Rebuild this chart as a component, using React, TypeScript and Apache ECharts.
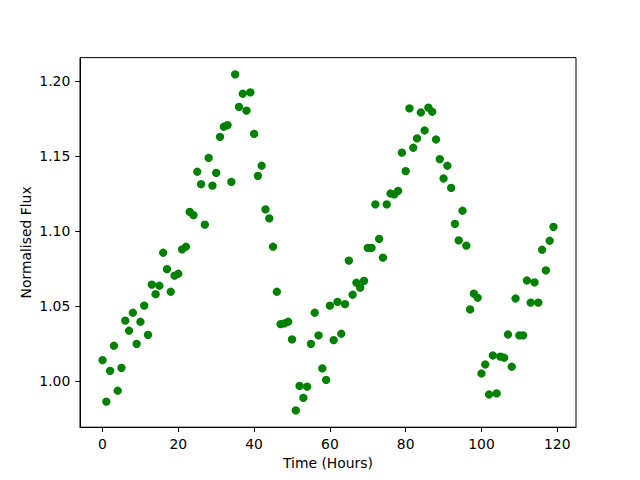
import React, { useEffect, useRef } from "react";
import * as echarts from "echarts";

const hours = [
  0, 1, 2, 3, 4, 5, 6, 7, 8, 9, 10, 11, 12, 13, 14, 15, 16, 17, 18, 19,
  20, 21, 22, 23, 24, 25, 26, 27, 28, 29, 30, 31, 32, 33, 34, 35, 36, 37, 38, 39,
  40, 41, 42, 43, 44, 45, 46, 47, 48, 49, 50, 51, 52, 53, 54, 55, 56, 57, 58, 59,
  60, 61, 62, 63, 64, 65, 66, 67, 68, 69, 70, 71, 72, 73, 74, 75, 76, 77, 78, 79,
  80, 81, 82, 83, 84, 85, 86, 87, 88, 89, 90, 91, 92, 93, 94, 95, 96, 97, 98, 99,
  100, 101, 102, 103, 104, 105, 106, 107, 108, 109, 110, 111, 112, 113, 114, 115, 116, 117, 118, 119,
];

const flux = [
  1.0142, 0.9865, 1.0071, 1.0238, 0.9938, 1.0091, 1.0405, 1.0338, 1.0458, 1.0251,
  1.0398, 1.0505, 1.0311, 1.0645, 1.0582, 1.0638, 1.0858, 1.0749, 1.0598, 1.0705,
  1.0718, 1.088, 1.0898, 1.1131, 1.1109, 1.1398, 1.1315, 1.1045, 1.1491, 1.1305,
  1.1391, 1.1631, 1.1698, 1.1709, 1.1331, 1.2047, 1.1831, 1.1918, 1.1805, 1.1927,
  1.1651, 1.1371, 1.1438, 1.1147, 1.1087, 1.0898, 1.0598, 1.0382, 1.0387, 1.0398,
  1.028, 0.9807, 0.9971, 0.9891, 0.9965, 1.0251, 1.0458, 1.0307, 1.0087, 1.0011,
  1.0505, 1.0275, 1.0531, 1.0318, 1.0515, 1.0805, 1.0578, 1.0658, 1.0625, 1.0671,
  1.0891, 1.0891, 1.118, 1.0951, 1.0825, 1.118, 1.1253, 1.1247, 1.1271, 1.1525,
  1.1402, 1.182, 1.1558, 1.162, 1.1793, 1.1673, 1.1825, 1.1798, 1.1613, 1.1482,
  1.1353, 1.1438, 1.1291, 1.1051, 1.094, 1.1138, 1.0905, 1.048, 1.0585, 1.0558,
  1.0053, 1.0113, 0.9913, 1.0173, 0.992, 1.0165, 1.0158, 1.0313, 1.0098, 1.0553,
  1.0307, 1.0307, 1.0673, 1.0525, 1.066, 1.0525, 1.0878, 1.074, 1.0938, 1.1031,
];

const xTicks = [0, 20, 40, 60, 80, 100, 120];
const yTicks = [1.0, 1.05, 1.1, 1.15, 1.2];

const FONT = "DejaVu Sans";

export default function App() {
  const ref = useRef<HTMLDivElement>(null);

  useEffect(() => {
    if (!ref.current) return;
    const chart = echarts.init(ref.current, undefined, { renderer: "svg" });
    const axisText = { color: "#000", fontSize: 13.9, fontFamily: FONT };
    const option: any = {
      animation: false,
      backgroundColor: "#fff",
      grid: {
        left: 80,
        right: 64,
        top: 57.6,
        bottom: 52.8,
        show: true,
        borderColor: "#000",
        borderWidth: 1,
        backgroundColor: "transparent",
      },
      xAxis: {
        type: "value",
        min: (v: any) => v.min - 0.05 * (v.max - v.min),
        max: (v: any) => v.max + 0.05 * (v.max - v.min),
        name: "Time (Hours)",
        nameLocation: "middle",
        nameGap: 29,
        nameMoveOverlap: false,
        nameTextStyle: axisText,
        axisLine: { show: true, onZero: false, lineStyle: { color: "#000", width: 1 } },
        axisTick: {
          show: true,
          inside: false,
          length: 4.86,
          customValues: xTicks,
          lineStyle: { color: "#000", width: 1 },
        },
        axisLabel: {
          ...axisText,
          margin: 9.7,
          customValues: xTicks,
          formatter: (v: number) => String(v),
        },
        splitLine: { show: false },
      },
      yAxis: {
        type: "value",
        min: (v: any) => v.min - 0.05 * (v.max - v.min),
        max: (v: any) => v.max + 0.05 * (v.max - v.min),
        name: "Normalised Flux",
        nameLocation: "middle",
        nameGap: 47,
        nameMoveOverlap: false,
        nameTextStyle: axisText,
        axisLine: { show: true, onZero: false, lineStyle: { color: "#000", width: 1 } },
        axisTick: {
          show: true,
          inside: false,
          length: 4.86,
          customValues: yTicks,
          lineStyle: { color: "#000", width: 1 },
        },
        axisLabel: {
          ...axisText,
          margin: 9.7,
          customValues: yTicks,
          formatter: (v: number) => v.toFixed(2),
        },
        splitLine: { show: false },
      },
      series: [
        {
          type: "scatter",
          data: hours.map((h, i) => [h, flux[i]]),
          symbol: "circle",
          symbolSize: 8.33,
          itemStyle: { color: "#008000", opacity: 1 },
        },
      ],
    };
    chart.setOption(option);
    return () => chart.dispose();
  }, []);

  return (
    <div
      ref={ref}
      style={{ position: "fixed", left: 0, top: 0, width: 640, height: 480, background: "#fff" }}
    />
  );
}
